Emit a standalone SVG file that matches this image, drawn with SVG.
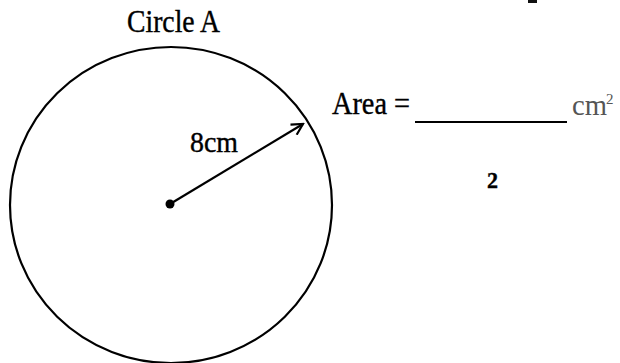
<svg xmlns="http://www.w3.org/2000/svg" width="620" height="363" viewBox="0 0 620 363">
<defs>
<style>
.t{font-family:"Liberation Serif","Times New Roman",serif;fill:#000;stroke:#000;stroke-width:0.4}
.ln{stroke:#000;fill:none;stroke-width:2.2}
</style>
<marker id="ah" markerWidth="14" markerHeight="14" refX="12" refY="7" orient="auto" markerUnits="userSpaceOnUse">
<path d="M1,1 L12,7 L1,13" fill="none" stroke="#000" stroke-width="2.2"/>
</marker>
</defs>
<rect width="620" height="363" fill="#fff"/>
<rect x="528" y="0" width="9" height="3" fill="#111"/>
<g id="circleA">
<ellipse class="ln" cx="171" cy="205" rx="161" ry="158" stroke-width="2.5"/>
<circle cx="170" cy="204" r="4.5" fill="#000"/>
<text class="t" x="127" y="32" font-size="31" textLength="93" lengthAdjust="spacingAndGlyphs">Circle A</text>
</g>
<g id="connectors">
<line class="ln" x1="170" y1="204" x2="303" y2="124" marker-end="url(#ah)"/>
</g>
<g id="radiusLabel">
<text class="t" x="190" y="152" font-size="30" textLength="48" lengthAdjust="spacingAndGlyphs">8cm</text>
</g>
<g id="area">
<text class="t" x="332" y="114" font-size="31" textLength="78" lengthAdjust="spacingAndGlyphs">Area =</text>
<line x1="415" y1="122" x2="567" y2="122" stroke="#000" stroke-width="1.8"/>
<text x="572" y="115" font-size="29" font-family="Liberation Serif, serif" fill="#555" textLength="35" lengthAdjust="spacingAndGlyphs">cm</text>
<text x="606" y="104" font-size="15" font-family="Liberation Serif, serif" fill="#555">2</text>
</g>
<g id="mark">
<text class="t" x="487" y="188" font-size="24" font-weight="bold" textLength="11" lengthAdjust="spacingAndGlyphs">2</text>
</g>
</svg>
